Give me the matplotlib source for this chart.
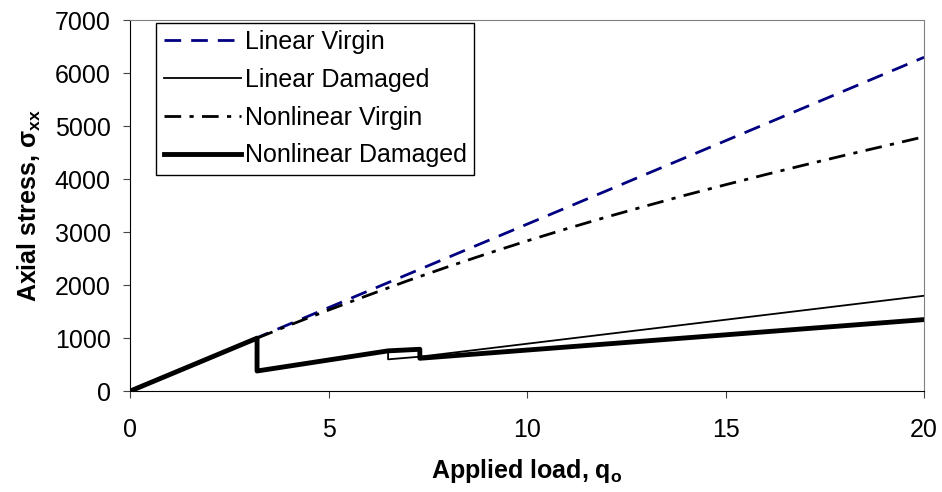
import matplotlib
matplotlib.use("Agg")
import matplotlib.pyplot as plt

plt.rcParams['font.family'] = ['Liberation Sans', 'DejaVu Sans']
plt.rcParams['mathtext.fontset'] = 'custom'
plt.rcParams['mathtext.rm'] = 'Liberation Sans'
plt.rcParams['mathtext.it'] = 'Liberation Sans:italic'
plt.rcParams['mathtext.bf'] = 'Liberation Sans:bold'

# axial stress vs applied load
lin_virgin_q = [0, 20]
lin_virgin_s = [0, 6300]

lin_damaged_q = [0, 3.2, 3.2, 6.5, 6.5, 7.3, 20]
lin_damaged_s = [0, 1000, 380, 750, 600, 650, 1800]

nl_virgin_q = [3.2, 4, 5, 6, 7, 8, 9, 10, 11, 12, 13, 14, 15, 16, 17, 18, 19, 20]
nl_virgin_s = [1000, 1240, 1530, 1810, 2085, 2345, 2595, 2835, 3065, 3285,
               3495, 3700, 3895, 4085, 4270, 4450, 4625, 4800]

nl_damaged_q = [0, 3.2, 3.2, 6.5, 7.3, 7.3, 20]
nl_damaged_s = [0, 1000, 380, 760, 790, 620, 1350]

fig = plt.figure(figsize=(9.42, 4.92), dpi=100)
ax = fig.add_axes([0.138, 0.205, 0.843, 0.754])

ax.plot(lin_virgin_q, lin_virgin_s, color='#000080', lw=2.0,
        dashes=(6, 3.6), label='Linear Virgin')
ax.plot(lin_damaged_q, lin_damaged_s, color='black', lw=1.3,
        label='Linear Damaged')
ax.plot(nl_virgin_q, nl_virgin_s, color='black', lw=2.0,
        dashes=(6, 3, 1.5, 3), label='Nonlinear Virgin')
ax.plot(nl_damaged_q, nl_damaged_s, color='black', lw=3.5,
        label='Nonlinear Damaged')

ax.set_xlim(0, 20)
ax.set_ylim(0, 7000)
ax.set_xticks([0, 5, 10, 15, 20])
ax.set_yticks(range(0, 7001, 1000))
ax.tick_params(direction='out', length=5, labelsize=18, color='#444444')
ax.tick_params(axis='x', pad=14)
ax.tick_params(axis='y', pad=9)

ax.spines['top'].set_color('#808080')
ax.spines['right'].set_color('#808080')

ax.set_xlabel(r'Applied load, q$_\mathbf{o}$', fontsize=18, fontweight='bold', labelpad=11)
ax.set_ylabel(r'Axial stress, $\mathbf{\sigma}_\mathbf{xx}$', fontsize=18, fontweight='bold', labelpad=8)

leg = ax.legend(loc='upper left', bbox_to_anchor=(0.03, 1.0), fontsize=18,
                handlelength=3.1, handletextpad=0.15, borderpad=0.3,
                borderaxespad=0.1, labelspacing=0.55, fancybox=False, framealpha=1)
leg.get_frame().set_edgecolor('black')
leg.get_frame().set_linewidth(1.0)

fig.savefig('out.png', dpi=100)
